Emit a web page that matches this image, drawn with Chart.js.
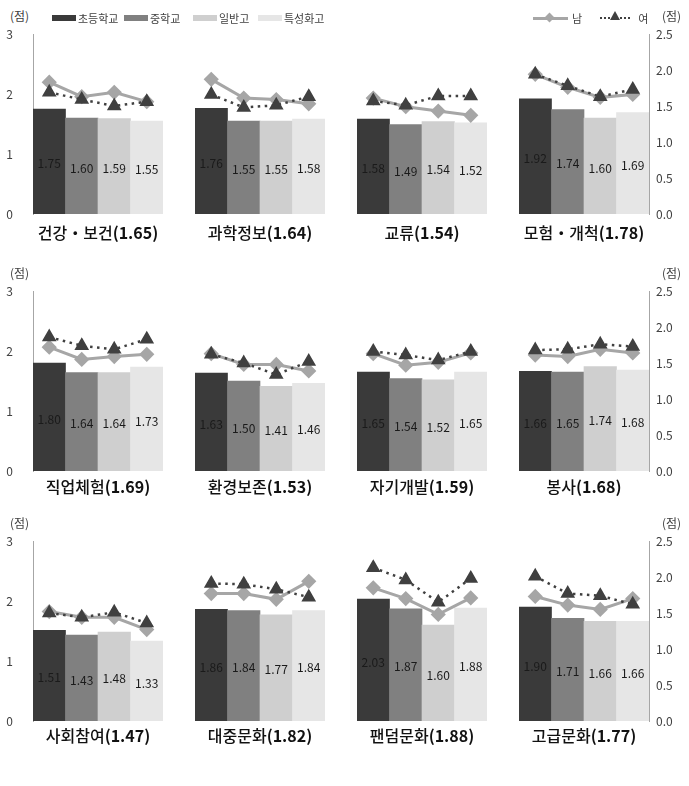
<!DOCTYPE html>
<html>
<head>
<meta charset="utf-8">
<script src="https://cdn.jsdelivr.net/npm/chart.js@4/dist/chart.umd.min.js"></script>
<style>
  body { margin: 0; background: #fff; }
  #wrap { position: relative; width: 689px; height: 786px; background: #fff; font-family: "Noto Sans CJK KR", sans-serif; color: #404040; }
  #wrap canvas { position: absolute; }
  .title { position: absolute; transform: translate(-50%, -50%); font-size: 16px; font-weight: 500; color: #111; white-space: nowrap; }
  .title b { font-weight: 700; }
  .unit { position: absolute; font-size: 12px; color: #404040; }
  .leg { position: absolute; font-size: 11px; color: #404040; display: flex; align-items: center; white-space: nowrap; }
  .sw { display: inline-block; width: 24px; height: 6px; margin-right: 2px; }
  .mline { position: relative; display: inline-block; width: 35px; height: 3px; background: #a6a6a6; margin-right: 4px; }
  .mline i { position: absolute; left: 13px; top: -3px; width: 7px; height: 7px; background: #a6a6a6; transform: rotate(45deg); }
  .fline { position: relative; display: inline-block; width: 30px; border-top: 2px dotted #404040; margin-right: 8px; }
  .fline i { position: absolute; left: 10px; top: -8px; width: 0; height: 0; border-left: 5px solid transparent; border-right: 5px solid transparent; border-bottom: 9px solid #404040; }
</style>
</head>
<body>
<div id="wrap"></div>
<script>
// areas and their overall means
const areas = ['건강・보건', '과학정보', '교류', '모험・개척', '직업체험', '환경보존', '자기개발', '봉사', '사회참여', '대중문화', '팬덤문화', '고급문화'];
const areaMeans = ['1.65', '1.64', '1.54', '1.78', '1.69', '1.53', '1.59', '1.68', '1.47', '1.82', '1.88', '1.77'];
const schools = ['초등학교', '중학교', '일반고', '특성화고'];

// school level scores (left axis, 0-3)
const elementary = [1.75, 1.76, 1.58, 1.92, 1.80, 1.63, 1.65, 1.66, 1.51, 1.86, 2.03, 1.90];
const middle = [1.60, 1.55, 1.49, 1.74, 1.64, 1.50, 1.54, 1.65, 1.43, 1.84, 1.87, 1.71];
const generalHigh = [1.59, 1.55, 1.54, 1.60, 1.64, 1.41, 1.52, 1.74, 1.48, 1.77, 1.60, 1.66];
const vocational = [1.55, 1.58, 1.52, 1.69, 1.73, 1.46, 1.65, 1.68, 1.33, 1.84, 1.88, 1.66];

// gender scores per area, by school level (right axis, 0-2.5)
const male = [
  [1.83, 1.63, 1.69, 1.56], [1.87, 1.61, 1.59, 1.53], [1.61, 1.49, 1.43, 1.37], [1.94, 1.76, 1.62, 1.66],
  [1.72, 1.55, 1.59, 1.62], [1.63, 1.48, 1.48, 1.39], [1.63, 1.47, 1.51, 1.64], [1.61, 1.59, 1.69, 1.64],
  [1.52, 1.44, 1.44, 1.27], [1.77, 1.77, 1.69, 1.94], [1.85, 1.70, 1.48, 1.71], [1.73, 1.61, 1.55, 1.70]
];
const female = [
  [1.69, 1.59, 1.50, 1.56], [1.66, 1.48, 1.51, 1.63], [1.57, 1.51, 1.64, 1.64], [1.94, 1.78, 1.63, 1.73],
  [1.86, 1.74, 1.69, 1.83], [1.62, 1.50, 1.34, 1.52], [1.66, 1.61, 1.54, 1.66], [1.68, 1.69, 1.76, 1.73],
  [1.50, 1.44, 1.51, 1.36], [1.91, 1.90, 1.83, 1.72], [2.13, 1.96, 1.65, 1.98], [2.01, 1.77, 1.74, 1.62]
];

const barColors = ['#3a3a3a', '#808080', '#cfcfcf', '#e6e6e6'];
const font = "'Noto Sans CJK KR', sans-serif";

const colLeft = [33, 195, 357, 519];
const rowTop = [34, 291, 541];
const titleY = [232, 486, 735];
const plotW = 130, plotH = 180, padL = 33, padR = 40, padV = 10;

const wrap = document.getElementById('wrap');

// numbers in the middle of each bar
const barLabels = {
  id: 'barLabels',
  afterDatasetsDraw(chart) {
    const ctx = chart.ctx;
    const meta = chart.getDatasetMeta(0);
    ctx.save();
    ctx.font = '12px ' + font;
    ctx.fillStyle = '#1a1a1a';
    ctx.textAlign = 'center';
    ctx.textBaseline = 'middle';
    meta.data.forEach((bar, j) => {
      const v = chart.data.datasets[0].data[j];
      ctx.fillText(v.toFixed(2), bar.x, (bar.y + bar.base) / 2 + 2);
    });
    ctx.restore();
  }
};

function addEl(html, cls, left, top) {
  const d = document.createElement('div');
  d.className = cls;
  d.innerHTML = html;
  d.style.left = left + 'px';
  d.style.top = top + 'px';
  wrap.appendChild(d);
  return d;
}

// keep the plot area fixed: no extra padding from the tick labels
function fixAxis(width) {
  return s => {
    s.width = width;
    s.paddingTop = 0;
    s.paddingBottom = 0;
  };
}

areas.forEach((area, i) => {
  const row = Math.floor(i / 4), col = i % 4;
  const hasLeft = col === 0, hasRight = col === 3;

  const cv = document.createElement('canvas');
  cv.width = padL + plotW + padR;
  cv.height = plotH + padV * 2;
  cv.style.left = (colLeft[col] - padL) + 'px';
  cv.style.top = (rowTop[row] - padV) + 'px';
  wrap.appendChild(cv);

  new Chart(cv.getContext('2d'), {
    type: 'bar',
    data: {
      labels: schools,
      datasets: [
        {
          label: area,
          data: [elementary[i], middle[i], generalHigh[i], vocational[i]],
          backgroundColor: barColors,
          categoryPercentage: 1,
          barPercentage: 1,
          yAxisID: 'y',
          order: 2
        },
        {
          type: 'line',
          label: '남',
          data: male[i],
          yAxisID: 'y1',
          borderColor: '#a6a6a6',
          backgroundColor: '#a6a6a6',
          borderWidth: 3,
          pointStyle: 'rectRot',
          pointRadius: 5.5,
          order: 1
        },
        {
          type: 'line',
          label: '여',
          data: female[i],
          yAxisID: 'y1',
          borderColor: '#404040',
          backgroundColor: '#404040',
          borderWidth: 2.5,
          borderDash: [2.5, 4.5],
          pointStyle: 'triangle',
          pointRadius: 6,
          order: 0
        }
      ]
    },
    options: {
      responsive: false,
      animation: false,
      layout: { padding: { left: hasLeft ? 0 : padL, right: hasRight ? 0 : padR, top: padV, bottom: padV } },
      plugins: { legend: { display: false }, tooltip: { enabled: false } },
      scales: {
        x: { display: false, offset: true },
        y: {
          display: hasLeft,
          position: 'left',
          min: 0, max: 3,
          ticks: { stepSize: 1, padding: 20, color: '#404040', font: { size: 12, family: font } },
          grid: { display: false, drawTicks: false },
          border: { color: '#a6a6a6' },
          afterFit: hasLeft ? fixAxis(padL) : undefined
        },
        y1: {
          display: hasRight,
          position: 'right',
          min: 0, max: 2.5,
          ticks: { stepSize: 0.5, padding: 7, color: '#404040', font: { size: 12, family: font },
                   callback: v => v.toFixed(1) },
          grid: { display: false, drawTicks: false },
          border: { color: '#a6a6a6' },
          afterFit: hasRight ? fixAxis(padR) : undefined
        }
      }
    },
    plugins: [barLabels]
  });

  addEl(area + '<b>(' + areaMeans[i] + ')</b>', 'title', colLeft[col] + plotW / 2, titleY[row]);
});

// unit labels
rowTop.forEach(t => {
  addEl('(점)', 'unit', 10, t - 27);
  addEl('(점)', 'unit', 662, t - 27);
});

// school legend
const legX = [52, 124, 193, 258];
schools.forEach((s, j) => {
  addEl('<span class="sw" style="background:' + barColors[j] + '"></span><span>' + s + '</span>', 'leg', legX[j], 10);
});

// gender legend
addEl('<span class="mline"><i></i></span><span style="margin-right:18px">남</span>' +
      '<span class="fline"><i></i></span><span>여</span>', 'leg', 533, 10);
</script>
</body>
</html>
